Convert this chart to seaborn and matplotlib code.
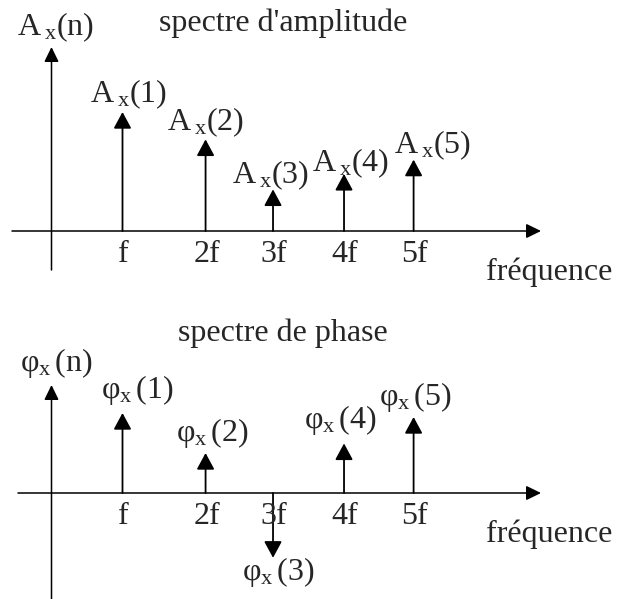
import pandas as pd
import seaborn as sns
import matplotlib.pyplot as plt

# harmonic positions (in units of f) and the two spectra
harmonics = [1, 2, 3, 4, 5]
freq_pos = [1.0, 2.17, 3.12, 4.12, 5.1]
tick_labels = ["f", "2f", "3f", "4f", "5f"]
amplitude = [1.0, 0.77, 0.35, 0.48, 0.60]
phase = [1.0, 0.50, -0.81, 0.62, 0.95]

df = pd.DataFrame({"n": harmonics, "pos": freq_pos, "amp": amplitude, "phase": phase})

sns.set_theme(style="white")
plt.rcParams["font.family"] = ["Liberation Serif", "DejaVu Serif"]
plt.rcParams["mathtext.fontset"] = "custom"
plt.rcParams["mathtext.rm"] = "Liberation Serif"
plt.rcParams["mathtext.it"] = "Liberation Serif:italic"

W, H = 617, 599
fig = plt.figure(figsize=(W / 100, H / 100), dpi=100)
FS = 23

# pixel layout of the drawing
X0, SX = 51.5, 71.0          # y-axis column and pixels per f


def make_panel(top, height, axis_row, scale):
    ax = fig.add_axes([0, 1 - (top + height) / H, 1, height / H])
    ax.set_xlim(-X0 / SX, (W - X0) / SX)
    ax.set_ylim(-(height - axis_row) / scale, axis_row / scale)
    ax.axis("off")
    return ax


def arrow(ax, start, end, head=(0.5, 0.27), lw=1.2, ms=20):
    ax.annotate("", xy=end, xytext=start, xycoords="data",
                arrowprops=dict(arrowstyle="-|>,head_length=%g,head_width=%g" % head,
                                color="black", lw=lw, mutation_scale=ms,
                                shrinkA=0, shrinkB=0))


def draw_panel(ax, values, names, label_off, title, title_row, ylab, ylab_row,
               xaxis_left, yaxis_top, yaxis_bottom, height, axis_row):
    y0, y1 = ax.get_ylim()
    row_to_y = lambda r: y0 + (height - r) / height * (y1 - y0)

    # axes of the drawing
    arrow(ax, ((xaxis_left - X0) / SX, 0), ((541 - X0) / SX, 0), head=(0.45, 0.22), lw=1.1)
    arrow(ax, (0, row_to_y(yaxis_bottom)), (0, row_to_y(yaxis_top)), head=(0.45, 0.22), lw=1.1)

    # spectral lines
    for p, v, name, (dx, dy) in zip(df["pos"], values, names, label_off):
        arrow(ax, (p, 0), (p, v), head=(0.5, 0.27), lw=1.3)
        ax.annotate(name, xy=(p, v), xytext=(dx, dy), textcoords="offset pixels",
                    ha="center", va="center", fontsize=FS)

    for p, t in zip(df["pos"], tick_labels):
        ax.annotate(t, xy=(p, 0), xytext=(1, -24), textcoords="offset pixels",
                    ha="center", va="center", fontsize=FS)
    ax.annotate("fréquence", xy=(612, 0), xycoords=("figure pixels", "data"),
                xytext=(0, -41), textcoords="offset pixels", ha="right", va="center", fontsize=FS)
    ax.annotate(title, xy=(283, 0), xycoords=("figure pixels", "data"),
                xytext=(0, axis_row - title_row), textcoords="offset pixels",
                ha="center", va="center", fontsize=FS)
    ax.annotate(ylab, xy=(56, 0), xycoords=("figure pixels", "data"),
                xytext=(0, axis_row - ylab_row), textcoords="offset pixels",
                ha="center", va="center", fontsize=FS)


# amplitude spectrum
ax1 = make_panel(0, 300, 231, 119.0)
amp_names = [r"$\mathrm{A}\,{}_{\mathrm{x}}\mathrm{(%d)}$" % n for n in harmonics]
draw_panel(ax1, df["amp"], amp_names,
           [(6, 18), (0, 17), (-2, 14), (7, 11), (19, 14)],
           "spectre d'amplitude", 23, r"$\mathrm{A}\,{}_{\mathrm{x}}\mathrm{(n)}$", 27,
           12, 47, 270, 300, 231)

# phase spectrum
ax2 = make_panel(300, 299, 193, 80.0)
ph_names = [r"$\mathrm{φ}_{\mathrm{x}}\,\mathrm{(%d)}$" % n for n in harmonics]
draw_panel(ax2, df["phase"], ph_names,
           [(15, 23), (7, 20), (5, -14), (-4, 23), (2, 20)],
           "spectre de phase", 33, r"$\mathrm{φ}_{\mathrm{x}}\,\mathrm{(n)}$", 63,
           18, 85, 299, 299, 193)

plt.savefig("out.png", dpi=100, facecolor="w")
